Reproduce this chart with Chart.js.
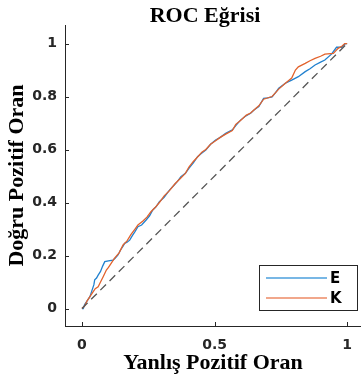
<!DOCTYPE html>
<html>
<head>
<meta charset="utf-8">
<script src="https://cdn.jsdelivr.net/npm/chart.js@4.4.0/dist/chart.umd.min.js"></script>
<style>
  html, body { margin: 0; padding: 0; background: #fff; }
  #wrap { width: 363px; height: 381px; }
</style>
</head>
<body>
<div id="wrap"><canvas id="canvas"></canvas></div>
<script>
var title = "ROC Eğrisi";
var xTitle = "Yanlış Pozitif Oran";
var yTitle = "Doğru Pozitif Oran";
var seriesNames = ["E", "K"];
var xTicks = [0, 0.5, 1];
var yTicks = [0, 0.2, 0.4, 0.6, 0.8, 1];

var fprE = [0, 0.005, 0.01, 0.02, 0.03, 0.035, 0.045, 0.048, 0.055, 0.061, 0.07, 0.078, 0.086, 0.1, 0.117, 0.125, 0.136, 0.145, 0.155, 0.161, 0.17, 0.18, 0.19, 0.2, 0.211, 0.225, 0.242, 0.255, 0.267, 0.28, 0.292, 0.31, 0.33, 0.348, 0.36, 0.373, 0.39, 0.404, 0.42, 0.436, 0.45, 0.467, 0.485, 0.504, 0.52, 0.542, 0.567, 0.58, 0.598, 0.615, 0.636, 0.65, 0.667, 0.685, 0.7, 0.717, 0.73, 0.742, 0.767, 0.791, 0.816, 0.842, 0.86, 0.879, 0.9, 0.916, 0.941, 0.96, 0.979, 0.994, 1];
var tprE = [0, 0, 0.015, 0.03, 0.045, 0.06, 0.09, 0.108, 0.115, 0.126, 0.14, 0.16, 0.177, 0.18, 0.183, 0.19, 0.202, 0.22, 0.235, 0.246, 0.25, 0.258, 0.275, 0.29, 0.309, 0.315, 0.334, 0.35, 0.372, 0.385, 0.403, 0.42, 0.447, 0.466, 0.48, 0.497, 0.51, 0.53, 0.55, 0.573, 0.585, 0.598, 0.62, 0.636, 0.645, 0.661, 0.674, 0.69, 0.711, 0.725, 0.737, 0.75, 0.762, 0.793, 0.795, 0.799, 0.815, 0.831, 0.85, 0.862, 0.875, 0.894, 0.905, 0.919, 0.93, 0.938, 0.96, 0.986, 0.986, 1, 1];

var fprK = [0, 0.01, 0.02, 0.03, 0.04, 0.05, 0.061, 0.07, 0.08, 0.092, 0.1, 0.11, 0.123, 0.14, 0.155, 0.17, 0.185, 0.2, 0.211, 0.23, 0.245, 0.26, 0.275, 0.292, 0.31, 0.33, 0.35, 0.37, 0.39, 0.404, 0.42, 0.436, 0.452, 0.467, 0.485, 0.504, 0.52, 0.542, 0.567, 0.58, 0.598, 0.62, 0.636, 0.655, 0.667, 0.685, 0.717, 0.742, 0.767, 0.791, 0.805, 0.816, 0.842, 0.86, 0.879, 0.9, 0.916, 0.948, 0.966, 0.98, 0.991, 1];
var tprK = [0, 0.01, 0.03, 0.045, 0.06, 0.075, 0.082, 0.1, 0.12, 0.145, 0.155, 0.17, 0.19, 0.21, 0.24, 0.255, 0.28, 0.3, 0.315, 0.33, 0.345, 0.365, 0.38, 0.4, 0.425, 0.445, 0.47, 0.49, 0.51, 0.535, 0.555, 0.572, 0.59, 0.6, 0.62, 0.633, 0.645, 0.658, 0.672, 0.695, 0.71, 0.73, 0.738, 0.755, 0.765, 0.79, 0.8, 0.828, 0.85, 0.87, 0.9, 0.912, 0.925, 0.935, 0.944, 0.952, 0.96, 0.963, 0.982, 0.99, 1, 1];

var chanceX = [0, 1];
var chanceY = [0, 1];

var colors = ["#2181cf", "#e2622c"];
var legendColors = ["#4b9fdc", "#ec8a64"];
var axisColor = "#262626";

function toPoints(xs, ys) {
    var pts = [];
    for (let i = 0; i < xs.length; i++) {
        pts.push({ x: xs[i], y: ys[i] });
    }
    return pts;
}

// MATLAB style: ticks point inward, legend sits inside the axes, title drawn by hand
var extras = {
    id: "extras",
    afterDraw: function (chart) {
        var ctx = chart.ctx;
        var xs = chart.scales.x, ys = chart.scales.y;
        var area = chart.chartArea;
        ctx.save();
        ctx.strokeStyle = axisColor;
        ctx.lineWidth = 1;
        xTicks.forEach(function (v) {
            var px = Math.round(xs.getPixelForValue(v)) + 0.5;
            ctx.beginPath();
            ctx.moveTo(px, area.bottom);
            ctx.lineTo(px, area.bottom - 4);
            ctx.stroke();
        });
        yTicks.forEach(function (v) {
            var py = Math.round(ys.getPixelForValue(v)) + 0.5;
            ctx.beginPath();
            ctx.moveTo(area.left, py);
            ctx.lineTo(area.left + 4, py);
            ctx.stroke();
        });

        // title
        ctx.fillStyle = "#000";
        ctx.font = "bold 22px 'Liberation Serif'";
        ctx.textAlign = "center";
        ctx.textBaseline = "middle";
        ctx.fillText(title, 205, 16);

        // legend
        var lx = 259.5, ly = 265.5, lw = 98, lh = 45;
        ctx.fillStyle = "#fff";
        ctx.fillRect(lx, ly, lw, lh);
        ctx.strokeStyle = axisColor;
        ctx.lineWidth = 1;
        ctx.strokeRect(lx, ly, lw, lh);
        ctx.font = "bold 15px 'DejaVu Sans'";
        ctx.textAlign = "left";
        for (let i = 0; i < seriesNames.length; i++) {
            var yy = ly + 12.5 + i * 20;
            ctx.strokeStyle = legendColors[i];
            ctx.lineWidth = 1.5;
            ctx.beginPath();
            ctx.moveTo(266, yy);
            ctx.lineTo(327, yy);
            ctx.stroke();
            ctx.fillStyle = "#000";
            ctx.fillText(seriesNames[i], 330, yy + 1);
        }
        ctx.restore();
    }
};

var ctx = document.getElementById("canvas").getContext("2d");
var myChart = new Chart(ctx, {
    type: "scatter",
    data: {
        datasets: [{
            label: seriesNames[0],
            data: toPoints(fprE, tprE),
            showLine: true,
            borderColor: colors[0],
            borderWidth: 1.3,
            pointRadius: 0,
            order: 2
        }, {
            label: seriesNames[1],
            data: toPoints(fprK, tprK),
            showLine: true,
            borderColor: colors[1],
            borderWidth: 1.3,
            pointRadius: 0,
            order: 1
        }, {
            label: "chance",
            data: toPoints(chanceX, chanceY),
            showLine: true,
            borderColor: "#555555",
            borderWidth: 1.3,
            borderDash: [8, 5],
            pointRadius: 0,
            order: 0
        }]
    },
    options: {
        responsive: true,
        maintainAspectRatio: false,
        animation: false,
        layout: { padding: { top: 25, left: 0, right: 0, bottom: 0 } },
        plugins: {
            legend: { display: false },
            title: { display: false },
            tooltip: { enabled: false }
        },
        scales: {
            x: {
                type: "linear",
                min: -0.064,
                max: 1.052,
                afterBuildTicks: function (scale) {
                    scale.ticks = xTicks.map(function (v) { return { value: v }; });
                },
                afterFit: function (scale) { scale.height = 55; },
                grid: { display: false, drawTicks: false },
                border: { display: true, color: axisColor, width: 1 },
                ticks: {
                    padding: 11,
                    color: axisColor,
                    font: { family: "'DejaVu Sans'", size: 14, weight: "bold" },
                    callback: function (v) { return String(v); }
                },
                title: {
                    display: true,
                    text: xTitle,
                    color: "#000",
                    font: { family: "'Liberation Serif'", size: 22, weight: "bold" },
                    padding: { top: 0, bottom: 4 }
                }
            },
            y: {
                type: "linear",
                min: -0.066,
                max: 1.07,
                afterBuildTicks: function (scale) {
                    scale.ticks = yTicks.map(function (v) { return { value: v }; });
                },
                afterFit: function (scale) { scale.width = 65; },
                grid: { display: false, drawTicks: false },
                border: { display: true, color: axisColor, width: 1 },
                ticks: {
                    padding: 8,
                    color: axisColor,
                    font: { family: "'DejaVu Sans'", size: 14, weight: "bold" },
                    callback: function (v) { return String(v); }
                },
                title: {
                    display: true,
                    text: yTitle,
                    color: "#000",
                    font: { family: "'Liberation Serif'", size: 22, weight: "bold" },
                    padding: { top: 4, bottom: 0 }
                }
            }
        }
    },
    plugins: [extras]
});
</script>
</body>
</html>
